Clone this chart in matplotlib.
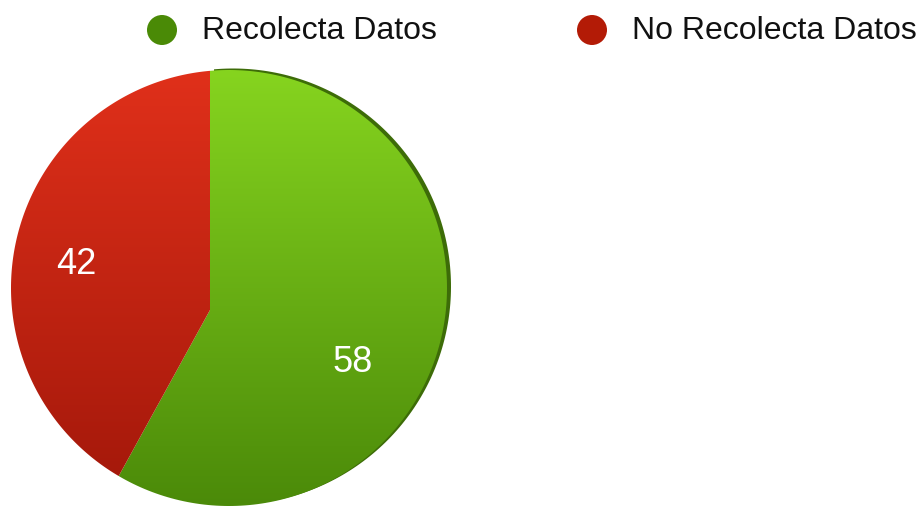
import numpy as np
import matplotlib

matplotlib.use("Agg")
import matplotlib.pyplot as plt
from matplotlib.colors import to_rgb
from matplotlib.patches import Circle, Polygon

labels = ["Recolecta Datos", "No Recolecta Datos"]
values = [58, 42]
top_colors = ["#86d41f", "#e0301a"]
bottom_colors = ["#4b8a09", "#a6190b"]
legend_colors = ["#4a8a06", "#b31b06"]
rim_color = "#3d6c08"

# pie geometry in pixel units (y grows downward)
center = np.array([229.0, 288.0])
radius = 218.0
apex = np.array([210.0, 310.0])
label_pos = [(353, 362), (76, 264)]


def _direction(angle_deg):
    a = np.radians(angle_deg)
    return np.array([np.sin(a), -np.cos(a)])


def _ray_hit(angle_deg):
    d = _direction(angle_deg)
    f = apex - center
    b = 2 * f.dot(d)
    c = f.dot(f) - radius**2
    t = (-b + np.sqrt(b * b - 4 * c)) / 2
    return apex + t * d


def _angle_of(point):
    v = point - center
    return np.degrees(np.arctan2(v[0], -v[1]))


def _slice_points(a0, a1):
    s = _angle_of(_ray_hit(a0))
    e = _angle_of(_ray_hit(a1))
    while e <= s:
        e += 360
    arc = np.linspace(s, e, 200)
    pts = [center + radius * _direction(a) for a in arc]
    return np.vstack([apex] + pts)


def _gradient(top, bottom, n=256):
    t = np.linspace(0, 1, n)[:, None]
    top = np.array(to_rgb(top))
    bottom = np.array(to_rgb(bottom))
    return (top * (1 - t) + bottom * t)[:, None, :]


fig = plt.figure(figsize=(9.21, 5.07), dpi=100)
ax = fig.add_axes([0, 0, 1, 1])
ax.set_axis_off()

total = sum(values)
bounds = np.cumsum([0] + values) / total * 360

for idx, value in enumerate(values):
    pts = _slice_points(bounds[idx], bounds[idx + 1])
    if idx == 0:
        ax.add_patch(Polygon(pts + np.array([4.0, -1.5]), closed=True,
                             facecolor=rim_color, edgecolor="none", zorder=1))
    patch = Polygon(pts, closed=True, facecolor="none", edgecolor="none", zorder=2)
    ax.add_patch(patch)
    x0, y0 = pts.min(axis=0)
    x1, y1 = pts.max(axis=0)
    img = ax.imshow(_gradient(top_colors[idx], bottom_colors[idx]),
                    extent=(x0, x1, y1, y0), origin="upper", aspect="auto",
                    interpolation="bilinear", zorder=2)
    img.set_clip_path(patch)
    ax.text(label_pos[idx][0], label_pos[idx][1], str(value), color="white",
            fontsize=26, family="Liberation Sans", ha="center", va="center", zorder=3)

# legend
legend_x = [162, 592]
for idx, label in enumerate(labels):
    ax.add_patch(Circle((legend_x[idx], 30), 15, facecolor=legend_colors[idx],
                        edgecolor="none"))
    ax.text(legend_x[idx] + 40, 39, label, fontsize=23, family="Liberation Sans",
            ha="left", va="baseline", color="#111111")

ax.set_xlim(0, 921)
ax.set_ylim(507, 0)
fig.savefig("out.png", dpi=100, facecolor="white")
